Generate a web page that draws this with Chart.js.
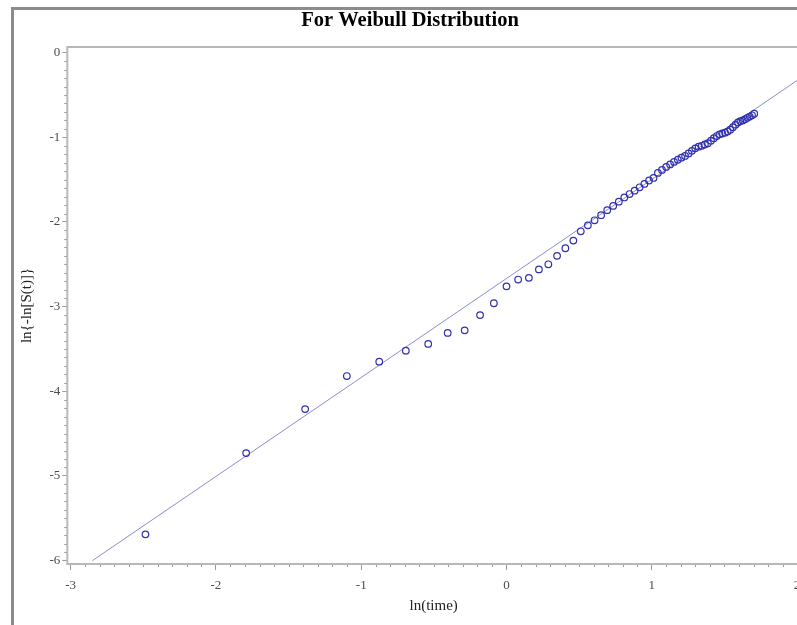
<!DOCTYPE html>
<html>
<head>
<meta charset="utf-8">
<script src="https://cdn.jsdelivr.net/npm/chart.js@4.4.1/dist/chart.umd.min.js"></script>
<style>
  html, body { margin: 0; padding: 0; background: #fff; overflow: hidden; }
  #frame {
    position: absolute; left: 11px; top: 7px; width: 900px; height: 700px;
    border-left: 3px solid #8c8c8c; border-top: 3px solid #8c8c8c;
  }
  #chart { position: absolute; left: 0; top: 0; }
</style>
</head>
<body>
<div id="frame"></div>
<canvas id="chart" width="820" height="625"></canvas>
<script>
// ln(time) for each observed time, and ln(-ln S(t)) from the survival estimate
const lnTime = [
  -2.485, -1.792, -1.386, -1.099, -0.876, -0.693, -0.539, -0.405, -0.288, -0.182,
  -0.087, 0.000, 0.080, 0.154, 0.223, 0.288, 0.348, 0.405, 0.460, 0.511,
  0.560, 0.606, 0.651, 0.693, 0.734, 0.773, 0.811, 0.847, 0.882, 0.916,
  0.949, 0.981, 1.012, 1.042, 1.070, 1.099, 1.126, 1.153, 1.179, 1.204,
  1.229, 1.253, 1.276, 1.299, 1.322, 1.344, 1.365, 1.386, 1.407, 1.427,
  1.447, 1.466, 1.485, 1.504, 1.522, 1.540, 1.558, 1.576, 1.593, 1.609,
  1.626, 1.642, 1.658, 1.674, 1.690, 1.705
];
const lnLnSurv = [
  -5.69, -4.73, -4.21, -3.82, -3.65, -3.52, -3.44, -3.31, -3.28, -3.10,
  -2.96, -2.76, -2.68, -2.66, -2.56, -2.50, -2.40, -2.31, -2.22, -2.11,
  -2.04, -1.98, -1.92, -1.86, -1.81, -1.76, -1.71, -1.67, -1.63, -1.59,
  -1.55, -1.51, -1.48, -1.42, -1.385, -1.35, -1.32, -1.29, -1.265, -1.24,
  -1.22, -1.19, -1.16, -1.13, -1.11, -1.10, -1.085, -1.07, -1.04, -1.01,
  -0.985, -0.965, -0.955, -0.945, -0.93, -0.91, -0.88, -0.85, -0.825, -0.81,
  -0.80, -0.785, -0.77, -0.755, -0.74, -0.72
];

// fitted straight line, two ends
const fitX = [-2.85, 2.05];
const fitY = [-6.0, -0.27];

const xTicks = [-3, -2, -1, 0, 1, 2];
const yTicks = [0, -1, -2, -3, -4, -5, -6];

const axisGray = '#9a9a9a';
const labelGray = '#4a4a4a';

// short ticks every 0.1 between the labelled ones, plus the box round the plot
const plotFrame = {
  id: 'plotFrame',
  afterDraw(chart) {
    const {ctx, chartArea, scales: {x, y}} = chart;
    ctx.save();
    ctx.strokeStyle = axisGray;
    ctx.lineWidth = 1;
    ctx.beginPath();
    for (let i = Math.ceil(x.min * 10); i <= Math.floor(x.max * 10); i++) {
      if (i % 10 === 0) continue;
      const px = Math.round(x.getPixelForValue(i / 10)) + 0.5;
      ctx.moveTo(px, chartArea.bottom);
      ctx.lineTo(px, chartArea.bottom + 3);
    }
    for (let i = Math.ceil(y.min * 10); i <= Math.floor(y.max * 10); i++) {
      if (i % 10 === 0) continue;
      const py = Math.round(y.getPixelForValue(i / 10)) + 0.5;
      ctx.moveTo(chartArea.left, py);
      ctx.lineTo(chartArea.left - 3, py);
    }
    ctx.stroke();
    ctx.strokeStyle = '#b8b8b8';
    ctx.lineWidth = 2;
    ctx.strokeRect(chartArea.left, chartArea.top, chartArea.right - chartArea.left, chartArea.bottom - chartArea.top);
    ctx.restore();
  }
};

new Chart(document.getElementById('chart').getContext('2d'), {
  type: 'scatter',
  data: {
    datasets: [
      {
        type: 'line',
        data: fitX.map((v, i) => ({x: v, y: fitY[i]})),
        borderColor: '#8c8cd0',
        borderWidth: 1,
        pointRadius: 0,
        fill: false,
        order: 2
      },
      {
        data: lnTime.map((v, i) => ({x: v, y: lnLnSurv[i]})),
        pointStyle: 'circle',
        pointRadius: 3.3,
        pointBorderWidth: 1.2,
        pointBorderColor: '#3030b0',
        pointBackgroundColor: 'rgba(0,0,0,0)',
        order: 1
      }
    ]
  },
  options: {
    responsive: false,
    animation: false,
    devicePixelRatio: 1,
    layout: { padding: { left: 20, right: 20, top: 0, bottom: 0 } },
    plugins: {
      legend: { display: false },
      tooltip: { enabled: false },
      title: {
        display: true,
        text: 'For Weibull Distribution',
        color: '#000',
        font: { family: 'Liberation Serif', size: 20.5, weight: 'bold', lineHeight: 1.2 },
        padding: { top: 8.5, bottom: 13.9 }
      }
    },
    scales: {
      x: {
        type: 'linear',
        min: -3.023,
        max: 2.02,
        afterBuildTicks: s => { s.ticks = xTicks.map(v => ({value: v})); },
        afterFit: s => { s.height = 61; },
        grid: { drawOnChartArea: false, tickLength: 6, tickColor: axisGray },
        border: { display: false },
        ticks: {
          color: labelGray,
          padding: 8,
          font: { family: 'Liberation Serif', size: 13 },
          callback: v => String(v)
        },
        title: {
          display: true,
          text: 'ln(time)',
          color: '#222',
          font: { family: 'Liberation Serif', size: 15, lineHeight: 1.2 },
          padding: { top: 0, bottom: 10 }
        }
      },
      y: {
        type: 'linear',
        min: -6.04,
        max: 0.067,
        afterBuildTicks: s => { s.ticks = yTicks.map(v => ({value: v})); },
        afterFit: s => { s.width = 47.3; },
        grid: { drawOnChartArea: false, tickLength: 5, tickColor: axisGray },
        border: { display: false },
        ticks: {
          color: labelGray,
          padding: 2,
          font: { family: 'Liberation Serif', size: 13 },
          callback: v => String(v)
        },
        title: {
          display: true,
          text: 'ln{-ln[S(t)]}',
          color: '#222',
          font: { family: 'Liberation Serif', size: 15, lineHeight: 1 },
          padding: { top: 0, bottom: 0 }
        }
      }
    }
  },
  plugins: [plotFrame]
});
</script>
</body>
</html>
